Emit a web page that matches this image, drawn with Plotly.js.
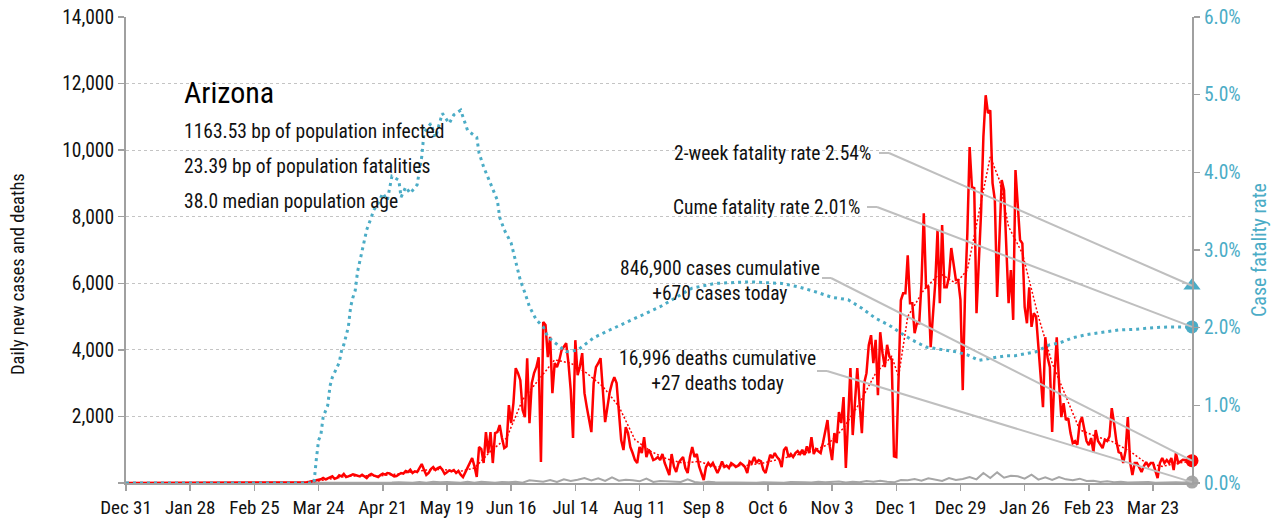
<!DOCTYPE html>
<html><head><meta charset="utf-8">
<script src="https://cdn.plot.ly/plotly-3.0.1.min.js"></script>
<style>html,body{margin:0;padding:0;background:#fff}#chart{width:1278px;height:525px}</style>
</head><body><div id="chart"></div>
<script>
// ---------------- data ----------------
const rangeStart = '2019-12-31';
const lastDate = '2021-04-09';

const xTickDates = ['2019-12-31','2020-01-28','2020-02-25','2020-03-24','2020-04-21','2020-05-19','2020-06-16','2020-07-14','2020-08-11','2020-09-08','2020-10-06','2020-11-03','2020-12-01','2020-12-29','2021-01-26','2021-02-23','2021-03-23'];
const xTickLabels = ['Dec 31','Jan 28','Feb 25','Mar 24','Apr 21','May 19','Jun 16','Jul 14','Aug 11','Sep 8','Oct 6','Nov 3','Dec 1','Dec 29','Jan 26','Feb 23','Mar 23'];
const yTickVals = [0,2000,4000,6000,8000,10000,12000,14000];
const yTickLabels = ['','2,000','4,000','6,000','8,000','10,000','12,000','14,000'];
const y2TickVals = [0,1,2,3,4,5,6];
const y2TickLabels = ['0.0%','1.0%','2.0%','3.0%','4.0%','5.0%','6.0%'];

// daily new cases, by month
const casesMar20 = [0,0,0,0,0,1,0,1,1,0, 2,3,1,4,2,5,8,16,21,35, 46,61,75,90,112,152,110,140,170,200,125];
const casesApr20 = [150,230,200,270,180,200,220,260,240,230, 200,250,190,150,230,270,230,200,180,240, 280,250,300,290,250,200,210,260,300,280];
const casesMay20 = [360,330,400,300,350,330,450,570,400,240, 300,420,480,390,450,480,400,270,320,380, 350,390,300,360,250,180,320,450,600,750,500];
const casesJun20 = [180,1080,1020,600,1530,900,1530,600,1500,1530, 1740,1350,1050,1100,2340,1800,2400,3450,3300,3090, 2190,1980,3750,1800,3000,3300,3480,3780,630,4840];
const casesJul20 = [4750,3780,4390,2700,3600,3480,3690,3990,4100,4200, 3600,2790,1350,4290,3240,3500,3900,2700,2280,1900, 1530,3000,3480,3600,3750,2790,1830,2280,2730,3000, 3180];
const casesAug20 = [3000,2100,1290,990,1680,1500,1080,900,690,600, 1080,900,1380,780,1000,870,690,720,780,690, 870,600,390,240,870,500,330,600,700,780, 450];
const casesSep20 = [300,780,1080,780,870,500,300,90,480,600, 510,600,450,300,450,650,480,520,450,600, 550,480,520,600,550,480,300,650,600,780];
const casesOct20 = [600,690,650,400,300,600,850,750,900,780, 700,480,990,1080,780,870,780,900,960,870, 1000,840,1100,900,1380,870,1020,950,900,1200, 1500];
const casesNov20 = [1890,1100,690,1500,1200,2130,1800,2580,450,1900, 3450,1440,2500,3450,2400,1500,3000,3300,4140,4440, 3600,4300,2640,4530,3900,3480,4150,3800,3700,800];
const casesDec20 = [780,2880,5490,5700,5700,6840,5400,5400,4500,4800, 4800,6000,8100,5880,5880,4080,4980,6000,7600,5400, 7750,5880,5880,6200,7060,6500,6100,6100,5500,2790, 5700];
const casesJan21 = [7500,10090,8890,8860,5100,6490,8140,10390,11650,11110, 11200,9010,8500,5590,7600,9100,8800,6910,5400,6400, 4900,9400,8200,7300,7200,5290,4800,5880,4690,5100, 5000];
const casesFeb21 = [4080,3090,2280,4380,3780,3480,1530,3180,4380,3000, 1980,2400,1890,1950,1500,1200,1260,1150,1800,1980, 1600,1260,1140,1350,930,1590,1260,1150];
const casesMar21 = [1050,1300,1260,1400,2250,1800,1260,930,900,600, 960,1980,630,240,600,600,450,330,510,630, 510,600,600,400,150,600,750,600,690,600, 750];
const casesApr21 = [390,900,600,650,700,690,650,690,670];

// 7-day average of cases (read at weekly points)
const avgDates = ['2019-12-31','2020-03-08','2020-03-15','2020-03-22','2020-03-29','2020-04-05','2020-04-12','2020-04-19','2020-04-26','2020-05-03','2020-05-10','2020-05-17','2020-05-24','2020-05-31','2020-06-07','2020-06-14','2020-06-21','2020-06-28','2020-07-05','2020-07-12','2020-07-19','2020-07-26','2020-08-02','2020-08-09','2020-08-16','2020-08-23','2020-08-30','2020-09-06','2020-09-13','2020-09-20','2020-09-27','2020-10-04','2020-10-11','2020-10-18','2020-10-25','2020-11-01','2020-11-08','2020-11-15','2020-11-22','2020-11-29','2020-12-02','2020-12-06','2020-12-13','2020-12-20','2020-12-27','2021-01-01','2021-01-05','2021-01-11','2021-01-15','2021-01-19','2021-01-25','2021-02-01','2021-02-07','2021-02-13','2021-02-19','2021-02-26','2021-03-05','2021-03-13','2021-03-20','2021-03-27','2021-04-03','2021-04-09'];
const avgValues = [0,0,3,40,130,200,220,210,260,330,390,410,340,450,950,1350,2500,3100,3700,3600,3300,2900,2300,1300,950,720,600,650,480,520,530,600,720,850,950,1150,1650,2400,3300,3800,3200,5000,5800,6300,6000,6400,7800,9800,9100,7700,6900,5000,3600,2600,1600,1400,1250,950,600,500,600,650];

// daily deaths, every 3rd day from 2020-03-20
const deathStart = '2020-03-20';
const deathStepDays = 3;
const deathValues = [0,1,2,3,5,8,12,6,4,20,8,15,12,25,
 16,10,30,8,35,20,30,15,5,40,10,
 40,25,10,30,20,40,10,80,50,40,
 90,30,110,60,100,150,80,140,60,170,
 70,100,80,50,130,30,60,50,40,30,
 110,30,10,40,25,20,35,10,15,20,
 10,20,12,25,10,30,15,20,12,40,20,
 30,45,15,40,20,60,35,70,40,20,
 90,80,120,70,140,100,60,150,90,120,
 180,110,300,150,320,160,220,200,130,250,
 100,170,90,180,110,80,130,60,70,30,
 50,25,40,15,20,10,30,5,15,10,
 20,12,20];

// case fatality rate (%), cumulative deaths / cumulative cases
const cfrDates = ['2019-12-31','2020-03-22','2020-03-23','2020-03-24','2020-03-25','2020-03-26','2020-03-28','2020-03-29','2020-03-30','2020-03-31','2020-04-02','2020-04-03','2020-04-04','2020-04-06','2020-04-07','2020-04-08','2020-04-09','2020-04-10','2020-04-12','2020-04-14','2020-04-16','2020-04-17','2020-04-19','2020-04-21','2020-04-23','2020-04-25','2020-04-28','2020-04-29','2020-05-01','2020-05-03','2020-05-06','2020-05-08','2020-05-09','2020-05-12','2020-05-14','2020-05-17','2020-05-20','2020-05-22','2020-05-25','2020-05-26','2020-05-28','2020-06-01','2020-06-02','2020-06-04','2020-06-07','2020-06-10','2020-06-11','2020-06-13','2020-06-16','2020-06-18','2020-06-20','2020-06-22','2020-06-24','2020-06-27','2020-06-30','2020-07-02','2020-07-06','2020-07-10','2020-07-15','2020-07-22','2020-07-29','2020-08-05','2020-08-12','2020-08-20','2020-08-27','2020-09-03','2020-09-13','2020-09-28','2020-10-12','2020-10-20','2020-10-27','2020-11-03','2020-11-10','2020-11-16','2020-11-22','2020-11-28','2020-12-03','2020-12-08','2020-12-14','2020-12-22','2020-12-27','2021-01-01','2021-01-06','2021-01-12','2021-01-18','2021-01-22','2021-01-27','2021-01-31','2021-02-06','2021-02-10','2021-02-16','2021-02-22','2021-03-01','2021-03-08','2021-03-16','2021-03-23','2021-03-30','2021-04-09'];
const cfrValues = [0,0,0.30,0.55,0.62,0.85,1.00,1.25,1.36,1.42,1.55,1.70,1.78,2.01,2.27,2.39,2.48,2.72,2.97,3.26,3.42,3.51,3.60,3.73,3.64,3.95,3.90,3.68,3.81,3.73,3.84,4.20,4.51,4.63,4.45,4.76,4.63,4.74,4.80,4.71,4.54,4.45,4.25,4.07,3.86,3.64,3.42,3.26,3.09,2.83,2.61,2.45,2.27,2.10,2.01,1.88,1.78,1.69,1.71,1.87,1.97,2.07,2.16,2.27,2.39,2.51,2.57,2.59,2.57,2.52,2.46,2.39,2.36,2.25,2.12,2.03,1.93,1.84,1.75,1.71,1.69,1.65,1.58,1.61,1.64,1.64,1.67,1.69,1.78,1.80,1.87,1.91,1.94,1.97,1.98,2.00,2.01,2.01];

// summary values
const twoWeekRate = 2.54;
const cumeRate = 2.01;
const lastCases = 670;
const lastDeaths = 27;
const stateName = 'Arizona';
const infoLines = ['1163.53 bp of population infected','23.39 bp of population fatalities','38.0 median population age'];
const rateLabels = ['2-week fatality rate 2.54%','Cume fatality rate 2.01%'];
const caseLabel = ['846,900 cases cumulative','+670 cases today'];
const deathLabel = ['16,996 deaths cumulative','+27 deaths today'];
const yTitle = 'Daily new cases and deaths';
const y2Title = 'Case fatality rate';

// ---------------- build ----------------
function iso(d){ return d.toISOString().slice(0,10); }
function monthDates(y, m, n){ const o=[]; for(let i=0;i<n;i++) o.push(iso(new Date(Date.UTC(y,m-1,i+1)))); return o; }
const caseMonths = [[2020,3,casesMar20],[2020,4,casesApr20],[2020,5,casesMay20],[2020,6,casesJun20],[2020,7,casesJul20],[2020,8,casesAug20],[2020,9,casesSep20],[2020,10,casesOct20],[2020,11,casesNov20],[2020,12,casesDec20],[2021,1,casesJan21],[2021,2,casesFeb21],[2021,3,casesMar21],[2021,4,casesApr21]];
let caseX=[rangeStart], caseY=[0];
caseMonths.forEach(([y,m,v])=>{ caseX=caseX.concat(monthDates(y,m,v.length)); caseY=caseY.concat(v); });

const ds = new Date(deathStart+'T00:00:00Z');
let deathX=[rangeStart], deathY=[0];
deathValues.forEach((v,i)=>{ deathX.push(iso(new Date(ds.getTime()+i*deathStepDays*86400000))); deathY.push(v); });
deathX.push(lastDate); deathY.push(lastDeaths);

const FONT = '"Liberation Sans Narrow","Roboto Condensed","DejaVu Sans Condensed","Arial Narrow",sans-serif';
const CYAN = '#4bacc6', RED = '#ff0000', GRAY = '#a6a6a6', AX = '#a0a0a0', TXT = '#111111';

const traces = [
  {x:cfrDates, y:cfrValues, yaxis:'y2', type:'scatter', mode:'lines', line:{color:CYAN, width:3, dash:'3px,4px'}, hoverinfo:'skip'},
  {x:deathX, y:deathY, type:'scatter', mode:'lines', line:{color:GRAY, width:2}, hoverinfo:'skip'},
  {x:avgDates, y:avgValues, type:'scatter', mode:'lines', line:{color:RED, width:1.5, dash:'2px,2px'}, hoverinfo:'skip'},
  {x:caseX, y:caseY, type:'scatter', mode:'lines', line:{color:RED, width:2.5}, hoverinfo:'skip'},
  {x:[lastDate], y:[twoWeekRate], yaxis:'y2', type:'scatter', mode:'markers', marker:{symbol:'triangle-up', size:15, color:CYAN}, cliponaxis:false},
  {x:[lastDate], y:[cumeRate], yaxis:'y2', type:'scatter', mode:'markers', marker:{symbol:'circle', size:13, color:CYAN}, cliponaxis:false},
  {x:[lastDate], y:[lastCases], type:'scatter', mode:'markers', marker:{symbol:'circle', size:13, color:RED}, cliponaxis:false},
  {x:[lastDate], y:[lastDeaths], type:'scatter', mode:'markers', marker:{symbol:'circle', size:13, color:GRAY}, cliponaxis:false}
];

// plot-area pixel helpers for annotation placement
const L=126, R=1192, T=17, B=483;
const px = v => (v-L)/(R-L);
const py = v => (B-v)/(B-T);
const yMax = 14000, y2Max = 6;

function leader(x0,yPix,xBend,yEnd){
  return [
    {type:'line', xref:'paper', yref:'paper', x0:px(x0), x1:px(xBend), y0:py(yPix), y1:py(yPix), line:{color:'#bfbfbf', width:2}},
    {type:'line', xref:'paper', yref:'paper', x0:px(xBend), x1:1, y0:py(yPix), y1:yEnd, line:{color:'#bfbfbf', width:2}}
  ];
}
const shapes = [].concat(
  leader(879,153,889,twoWeekRate/y2Max),
  leader(867,207,877,cumeRate/y2Max),
  leader(822,278,831,lastCases/yMax),
  leader(817,371,827,lastDeaths/yMax)
);

const ann = (text,x,y,xa,opts={}) => Object.assign({text, xref:'paper', yref:'paper', x, y, xanchor:xa, yanchor:'middle', showarrow:false, font:{family:FONT, size:19.5, color:TXT}}, opts);
const annotations = [
  ann(stateName, px(182), py(92), 'left', {font:{family:FONT, size:30, color:'#000'}}),
  ann(infoLines[0], px(182), py(131.5), 'left'),
  ann(infoLines[1], px(182), py(166.5), 'left'),
  ann(infoLines[2], px(182), py(201.5), 'left'),
  ann(rateLabels[0], px(873), py(154), 'right'),
  ann(rateLabels[1], px(862), py(207), 'right'),
  ann(caseLabel.join('<br>'), px(720), py(280.5), 'center'),
  ann(deathLabel.join('<br>'), px(717), py(370.5), 'center'),
  ann(yTitle, px(18), py(274), 'center', {textangle:-90, font:{family:FONT, size:18.5, color:TXT}})
];

const layout = {
  width:1278, height:525,
  margin:{l:L, r:1278-R, t:T, b:525-B, pad:0},
  paper_bgcolor:'#fff', plot_bgcolor:'#fff',
  font:{family:FONT, size:19, color:TXT},
  showlegend:false,
  xaxis:{type:'date', range:[rangeStart,lastDate], tickmode:'array', tickvals:xTickDates, ticktext:xTickLabels,
    ticks:'outside', ticklen:6, tickwidth:1.5, tickcolor:AX, showline:true, linecolor:AX, linewidth:2,
    showgrid:false, zeroline:false, tickfont:{family:FONT, size:19, color:TXT}, fixedrange:true},
  yaxis:{range:[0,yMax], tickmode:'array', tickvals:yTickVals, ticktext:yTickLabels,
    ticks:'outside', ticklen:6, tickwidth:1.5, tickcolor:AX, showline:true, linecolor:AX, linewidth:2,
    showgrid:true, gridcolor:'#c4c4c4', gridwidth:1, griddash:'dot', zeroline:false,
    tickfont:{family:FONT, size:19.5, color:TXT}, fixedrange:true},
  yaxis2:{overlaying:'y', side:'right', range:[0,y2Max], tickmode:'array', tickvals:y2TickVals, ticktext:y2TickLabels,
    ticks:'outside', ticklen:6, tickwidth:1.5, tickcolor:AX, showline:true, linecolor:AX, linewidth:2,
    showgrid:false, zeroline:false, tickfont:{family:FONT, size:19.5, color:CYAN},
    title:{text:y2Title, font:{family:FONT, size:20, color:CYAN}, standoff:12}, fixedrange:true},
  shapes, annotations
};

Plotly.newPlot('chart', traces, layout, {staticPlot:true, displayModeBar:false});
</script>
</body></html>
